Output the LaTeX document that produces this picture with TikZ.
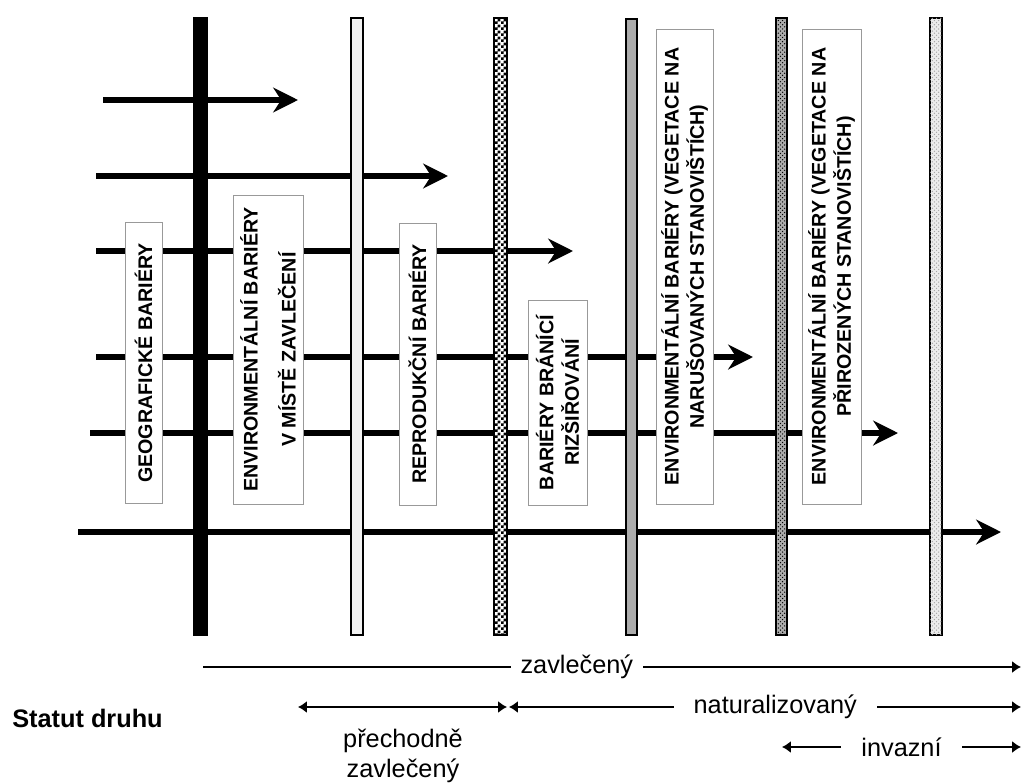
\documentclass[tikz,border=0pt]{standalone}
\usepackage{fontspec}
\setmainfont{Liberation Sans}
\usetikzlibrary{arrows.meta,patterns}
\pgfdeclarepatternformonly{finechecker}{\pgfpointorigin}{\pgfpoint{4pt}{4pt}}{\pgfpoint{4pt}{4pt}}{
    \pgfpathrectangle{\pgfpointorigin}{\pgfpoint{2pt}{2pt}}
    \pgfpathrectangle{\pgfpoint{2pt}{2pt}}{\pgfpoint{2pt}{2pt}}
    \pgfusepath{fill}}

\begin{document}
\begin{tikzpicture}[x=0.025cm,y=-0.025cm]
        \tikzset{
            barrier/.style= {
                draw=gray!80,
                fill=white,
                line width=0.6pt,
                shape=rectangle,
                rotate=90,
                align=center,
                inner sep=0pt,
                font=\fontsize{14}{18}\selectfont\bfseries
            },
            spread/.style= {
                line width=4.2pt,
                -{Stealth[length=0.62cm,width=0.62cm,inset=0.2cm]}
            },
            limit/.style= {
                draw=black,
                line width=1pt
            },
            status/.style= {
                line width=1.3pt,
                >={Latex[length=0.22cm,width=0.3cm]}
            },
            statuslabel/.style= {
                fill=white,
                inner ysep=1pt,
                font=\fontsize{18}{23}\selectfont
            },
        }
\useasboundingbox (0,0) rectangle (1024,782);
%% spreading arrows
\foreach \n/\y/\xa/\xb in {1/100/103/298, 2/176/96/448, 3/251/96/573,
                           4/357/96/753, 5/433/90/898, 6/532/78/1001}{
    \coordinate (from\n) at (\xa,\y);
    \coordinate (to\n) at (\xb,\y);
    \draw[spread] (from\n) -- (to\n);
}
%% barriers
\draw[limit, fill=black] (194,18) rectangle (207,635);
\draw[limit, fill=gray!10] (351,18) rectangle (363,635);
\draw[limit, fill=white, postaction={pattern=finechecker}] (494,18) rectangle (507,635);
\draw[limit, fill=gray!65] (626,19) rectangle (637,635);
\draw[limit, fill=gray!65, postaction={pattern=crosshatch dots}] (776,18) rectangle (787,635);
\draw[limit, fill=gray!15, postaction={pattern=crosshatch dots, pattern color=gray!70}] (930,18) rectangle (942,635);
%% labels of barriers
\node [barrier, minimum width=7.025cm, minimum height=0.925cm] (geo) at (143.5,363)
    {GEOGRAFICKÉ BARIÉRY};
\node [barrier, minimum width=7.725cm, minimum height=1.75cm] (envlocal) at (268,349.5)
    {ENVIRONMENTÁLNÍ BARIÉRY\\[9pt] V MÍSTĚ ZAVLEČENÍ};
\node [barrier, minimum width=7.05cm, minimum height=0.925cm] (repro) at (417.5,364)
    {REPRODUKČNÍ BARIÉRY};
\node [barrier, minimum width=5.125cm, minimum height=1.475cm] (disp) at (557.5,402.5)
    {BARIÉRY BRÁNÍCÍ\\ RIZŠIŘOVÁNÍ};
\node [barrier, minimum width=11.875cm, minimum height=1.425cm] (envdist) at (684.5,266.5)
    {ENVIRONMENTÁLNÍ BARIÉRY (VEGETACE NA\\ NARUŠOVANÝCH STANOVIŠTÍCH)};
\node [barrier, minimum width=11.875cm, minimum height=1.475cm] (envnat) at (831.5,266.5)
    {ENVIRONMENTÁLNÍ BARIÉRY (VEGETACE NA\\ PŘIROZENÝCH STANOVIŠTÍCH)};
%% status of species
\node [anchor=west, inner sep=0pt, font=\fontsize{18}{22}\selectfont\bfseries] (statut) at (12,718)
    {Statut druhu};
\coordinate (zav_a) at (203,667);
\coordinate (zav_b) at (1021,667);
\coordinate (pre_a) at (298,707);
\coordinate (pre_b) at (507,707);
\coordinate (nat_a) at (509,707);
\coordinate (nat_b) at (1021,707);
\coordinate (inv_a) at (782,747);
\coordinate (inv_b) at (1021,747);
\draw[status,->] (zav_a) -- node[statuslabel, pos=0.457, inner xsep=0.25cm] {zavlečený} (zav_b);
\draw[status,<->] (pre_a) -- (pre_b);
\draw[status,<->] (nat_a) -- node[statuslabel, pos=0.52, inner xsep=0.5cm] {naturalizovaný} (nat_b);
\draw[status,<->] (inv_a) -- node[statuslabel, inner xsep=0.5cm] {invazní} (inv_b);
\node [anchor=north, inner sep=0pt, align=center, font=\fontsize{18}{21}\selectfont] (transient)
    at (403,729) {přechodně\\ zavlečený};
\end{tikzpicture}
\end{document}
